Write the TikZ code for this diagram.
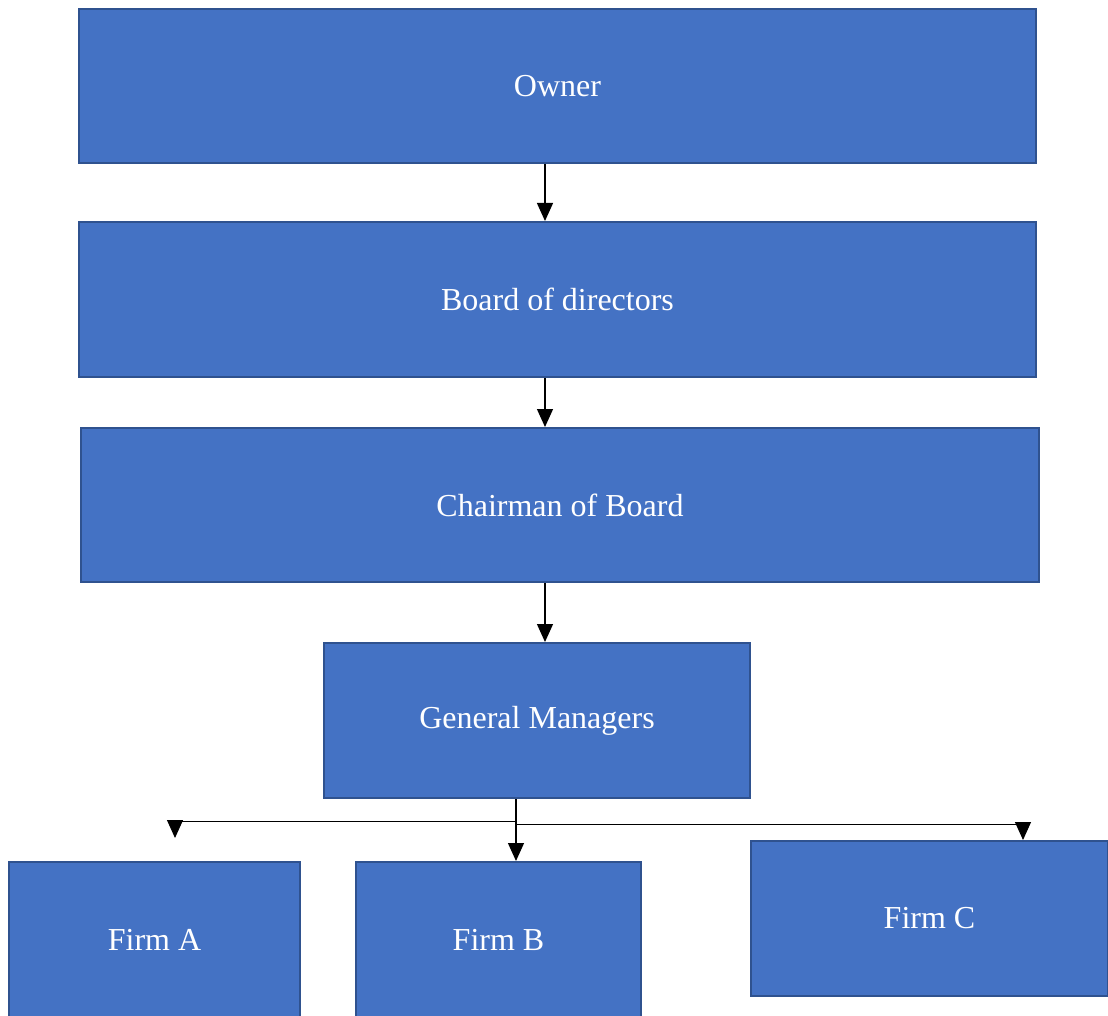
\documentclass[tikz,border=0pt]{standalone}
\usepackage{fontspec}
\setmainfont{Liberation Serif}
\usetikzlibrary{positioning,arrows.meta}
\definecolor{cBox}{HTML}{4472C4}
\definecolor{cEdge}{HTML}{2F528F}

\begin{document}
\begin{tikzpicture}[x=1pt,y=-1pt,
    orgbox/.style={draw=cEdge,fill=cBox,line width=2pt,text=white,inner sep=0pt,
      font=\fontsize{32}{38}\selectfont},
    link/.style={-{Triangle[width=16pt,length=18pt]},line width=1.3pt}]
  \useasboundingbox (0,0) rectangle (1108,1016);
  % top chain
  \node[orgbox,minimum width=957pt,minimum height=154pt] (owner) at (557.5,86) {Owner};
  \node[orgbox,minimum width=957pt,minimum height=155pt] (board) at (557.5,299.5) {Board of directors};
  \node[orgbox,minimum width=958pt,minimum height=154pt] (chair) at (560,505) {Chairman of Board};
  \node[orgbox,minimum width=426pt,minimum height=155pt] (gm) at (537,720.5) {General Managers};
  % firms
  \node[orgbox,minimum width=291pt,minimum height=155pt] (firma) at (154.5,939.5) {Firm A};
  \node[orgbox,minimum width=285pt,minimum height=155pt] (firmb) at (498.5,939.5) {Firm B};
  \node[orgbox,minimum width=357pt,minimum height=155pt] (firmc) at (929.5,918.5) {Firm C};

  \coordinate (spine) at (545,0);
  \coordinate (trunk) at (516,0);
  \coordinate (tapA) at (175,838);
  \coordinate (tapC) at (1023,840);

  \draw[link] (owner.south -| spine) -- (board.north -| spine);
  \draw[link] (board.south -| spine) -- (chair.north -| spine);
  \draw[link] (chair.south -| spine) -- (gm.north -| spine);

  \draw[link] (gm.south -| trunk) -- (firmb.north -| trunk);
  \draw[link,line width=1pt] (gm.south -| trunk) ++(0,22) -| (tapA);
  \draw[link,line width=1pt] (gm.south -| trunk) ++(0,25) -| (tapC);
\end{tikzpicture}
\end{document}
